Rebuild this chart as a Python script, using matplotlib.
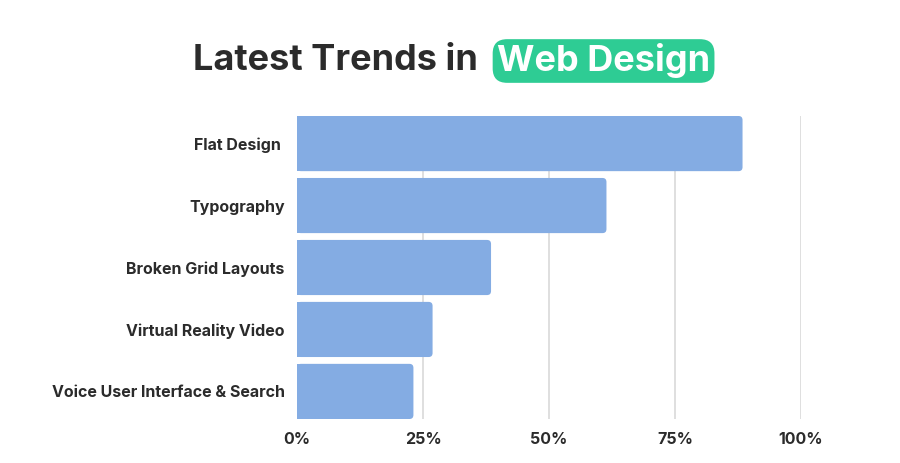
import matplotlib.pyplot as plt
from matplotlib.patches import FancyBboxPatch, Rectangle

# Data
categories = ["Flat Design ", "Typography", "Broken Grid Layouts",
              "Virtual Reality Video", "Voice User Interface & Search"]
shares = [88.4, 61.4, 38.5, 26.9, 23.1]
tick_values = [0, 25, 50, 75, 100]
tick_labels = ["0%", "25%", "50%", "75%", "100%"]

bar_color = "#84ace3"
text_color = "#2b2b2b"
green = "#2ecc94"

plt.rcParams['font.family'] = ['Inter', 'DejaVu Sans']

fig = plt.figure(figsize=(9, 4.63), dpi=100)
ax = fig.add_axes([297 / 900, 1 - 419 / 463, 504 / 900, 303 / 463])

bar_h = 0.89
bars = ax.barh(range(len(categories)), shares, height=bar_h, color=bar_color, zorder=2)

ax.set_xlim(0, 100)
ax.set_ylim(len(categories) - 1 + bar_h / 2, -bar_h / 2)

# rounded right ends: replace each rectangle with a rounded box
px_x = 504 / 100          # pixels per % on x
px_y = 303 / (len(categories) - 1 + bar_h)  # pixels per unit on y
for b in bars:
    x0, y0, w, h = b.get_x(), b.get_y(), b.get_width(), b.get_height()
    b.set_visible(False)
    r = 4 / px_x
    ax.add_patch(FancyBboxPatch((x0, y0), w, h,
                                boxstyle=f"round,pad=0,rounding_size={r}",
                                mutation_aspect=px_x / px_y,
                                fc=bar_color, ec="none", zorder=2))
    ax.add_patch(Rectangle((x0, y0), w / 2, h, fc=bar_color, ec="none", zorder=2))

ax.set_yticks(range(len(categories)))
ax.set_yticklabels(categories, fontsize=11.5, fontweight='bold', color=text_color)
ax.set_xticks(tick_values)
ax.set_xticklabels(tick_labels, fontsize=11.5, fontweight='bold', color=text_color)
ax.tick_params(axis='both', length=0)
ax.tick_params(axis='y', pad=9)
ax.tick_params(axis='x', pad=9)

for xv in tick_values[1:]:
    ax.axvline(xv, color="#d9d9d9", lw=1.2, zorder=1)

for s in ax.spines.values():
    s.set_visible(False)

# Title
fig.text(478 / 900, 1 - 61 / 463, "Latest Trends in", ha='right', va='center',
         fontsize=26, fontweight='bold', color=text_color)
fig.text(497 / 900, 1 - 61 / 463, "Web Design", ha='left', va='center',
         fontsize=26, fontweight='bold', color='white',
         bbox=dict(boxstyle="round,pad=0.12,rounding_size=0.4", fc=green, ec='none'))

fig.savefig("out.png", dpi=100, facecolor='white')
